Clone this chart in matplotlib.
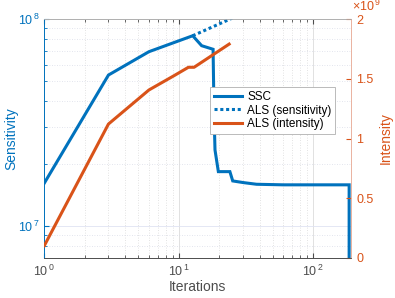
import matplotlib
matplotlib.use('Agg')
import matplotlib.pyplot as plt
from matplotlib.lines import Line2D
from matplotlib.ticker import LogLocator, FuncFormatter, NullFormatter
import numpy as np

plt.rcParams['font.family'] = ['Liberation Sans', 'DejaVu Sans']
plt.rcParams['mathtext.fontset'] = 'custom'
plt.rcParams['mathtext.rm'] = 'Liberation Sans'

# SSC sensitivity per iteration
ssc_iter = [1, 3, 6, 12.7, 14.8, 18.0, 18.3, 18.6, 19.7, 24.0, 25.2, 30.2, 37.9, 60, 185, 185]
ssc_sens = [1.61e7, 5.36e7, 6.95e7, 8.3e7, 7.43e7, 7.14e7, 3.5e7, 2.33e7, 1.83e7, 1.83e7,
            1.65e7, 1.62e7, 1.59e7, 1.58e7, 1.58e7, 1e6]

# ALS sensitivity (dotted continuation)
als_iter = [12.7, 25]
als_sens = [8.3e7, 1.01e8]

# ALS intensity (right axis)
alsi_iter = [1, 3, 6, 9.2, 11.8, 13.0, 23.7]
alsi_val = [1.03e8, 1.121e9, 1.406e9, 1.525e9, 1.596e9, 1.596e9, 1.79e9]

blue = '#0072BD'
red = '#D95319'
gray = '#4d4d4d'


def pow10(v, pos):
    return r'$\mathregular{10^{\,%d}}$' % round(np.log10(v))


fig = plt.figure(figsize=(3.95, 2.98), dpi=100)
ax = fig.add_axes([44.3 / 395, 40 / 298, 306.4 / 395, 239 / 298])
ax2 = ax.twinx()

ax.plot(ssc_iter, ssc_sens, color=blue, lw=2.2, solid_joinstyle='miter', zorder=3)
ax.plot(als_iter, als_sens, color=blue, lw=2.2, ls=(0, (1, 0.9)), zorder=3)
ax2.plot(alsi_iter, alsi_val, color=red, lw=2.2, zorder=3)

ax.set_xscale('log')
ax.set_yscale('log')
ax.set_xlim(1, 190)
ax.set_ylim(7e6, 1e8)
ax2.set_ylim(0, 2e9)

ax.xaxis.set_major_locator(LogLocator(base=10))
ax.xaxis.set_major_formatter(FuncFormatter(pow10))
ax.xaxis.set_minor_formatter(NullFormatter())
ax.yaxis.set_major_locator(LogLocator(base=10))
ax.yaxis.set_major_formatter(FuncFormatter(pow10))
ax.yaxis.set_minor_formatter(NullFormatter())

ax2.set_yticks([0, 0.5e9, 1e9, 1.5e9, 2e9])
ax2.set_yticklabels(['0', '0.5', '1', '1.5', '2'])
ax2.text(1.005, 1.019, r'$\times\mathregular{10^{\,9}}$', transform=ax2.transAxes,
         color=red, fontsize=9, ha='left', va='bottom')

# grid
ax.grid(True, which='major', axis='x', color='#dcdcdc', lw=0.6, ls='-')
ax.grid(True, which='minor', axis='x', color='#d9d9d9', lw=0.6, ls=(0, (1, 2)))
ax.grid(True, which='major', axis='y', color='#dfe3f2', lw=0.6, ls='-')
ax.grid(True, which='minor', axis='y', color='#d9dce8', lw=0.6, ls=(0, (1, 2)))
ax.set_axisbelow(True)

# ticks and spines
ax.tick_params(axis='x', which='both', direction='in', top=True, colors=gray, labelsize=9, pad=4)
ax.tick_params(axis='x', which='major', length=3.5)
ax.tick_params(axis='x', which='minor', length=2)
ax.tick_params(axis='y', which='both', direction='in', colors=blue, labelsize=9, pad=3)
ax.tick_params(axis='y', which='major', length=3.5)
ax.tick_params(axis='y', which='minor', length=2)
ax2.tick_params(axis='y', which='both', direction='in', colors=red, labelsize=9, length=3.5, pad=4)

for a in (ax, ax2):
    a.spines['top'].set_color('#b0b0b0')
    a.spines['bottom'].set_color(gray)
    a.spines['left'].set_color(blue)
    a.spines['right'].set_color('#eab3a0')
    for s in a.spines.values():
        s.set_linewidth(0.6)

ax.set_xlabel('Iterations', color=gray, fontsize=10, labelpad=1)
ax.set_ylabel('Sensitivity', color=blue, fontsize=10, labelpad=0)
ax2.set_ylabel('Intensity', color=red, fontsize=10, labelpad=4)

handles = [Line2D([], [], color=blue, lw=2.2),
           Line2D([], [], color=blue, lw=2.2, ls=(0, (1, 0.9))),
           Line2D([], [], color=red, lw=2.2)]
labels = ['SSC', 'ALS (sensitivity)', 'ALS (intensity)']
leg = ax2.legend(handles, labels, loc='upper left', bbox_to_anchor=(210 / 395, 1 - 87.3 / 298),
                 bbox_transform=fig.transFigure, borderaxespad=0, fontsize=8.5, fancybox=False,
                 framealpha=1, edgecolor='#b0b0b0', handlelength=2.4, handletextpad=0.45,
                 labelspacing=0.15, borderpad=0.3)
leg.get_frame().set_linewidth(0.6)
leg.set_zorder(10)

fig.savefig('out.png', dpi=100)
